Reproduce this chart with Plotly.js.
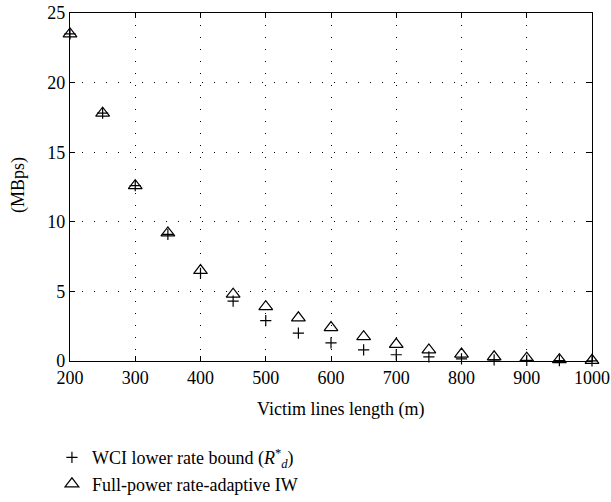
<!DOCTYPE html>
<html>
<head>
<meta charset="utf-8">
<script src="https://cdn.plot.ly/plotly-3.0.1.min.js"></script>
<style>html,body{margin:0;padding:0;background:#fff;}#chart{width:611px;height:502px;}</style>
</head>
<body>
<div id="chart"></div>
<script>
const lengths = [200, 250, 300, 350, 400, 450, 500, 550, 600, 650, 700, 750, 800, 850, 900, 950, 1000];
const wciLowerBound = [23.5, 17.8, 12.6, 9.1, 6.3, 4.3, 2.9, 2.0, 1.3, 0.8, 0.45, 0.3, 0.15, 0.08, 0.04, 0.02, 0.01];
const fullPowerIW = [23.5, 17.8, 12.6, 9.2, 6.5, 4.8, 3.9, 3.1, 2.4, 1.75, 1.2, 0.8, 0.5, 0.3, 0.2, 0.1, 0.05];
const xTicks = [200, 300, 400, 500, 600, 700, 800, 900, 1000];
const yTicks = [0, 5, 10, 15, 20, 25];
const xTitle = 'Victim lines length (m)';
const yTitle = '(MBps)';

const FONT = 'Liberation Serif, Times New Roman, serif';

const traces = [
  {
    x: lengths, y: wciLowerBound, type: 'scatter', mode: 'markers',
    name: 'WCI lower rate bound (<i>R</i><sup>*</sup><sub><i>d</i></sub>)',
    marker: {symbol: 'cross-thin-open', size: 8, color: '#000', line: {color: '#000', width: 1.2}},
    cliponaxis: false
  },
  {
    x: lengths, y: fullPowerIW, type: 'scatter', mode: 'markers',
    name: 'Full-power rate-adaptive IW',
    marker: {symbol: 'triangle-up-open', size: 12, color: '#000', line: {color: '#000', width: 1.2}},
    cliponaxis: false
  }
];

const axisCommon = {
  showline: true, linecolor: '#000', linewidth: 1.2, mirror: 'ticks',
  ticks: 'inside', ticklen: 5, tickcolor: '#000', tickwidth: 1,
  showgrid: true, gridcolor: '#000', gridwidth: 1, griddash: '1px,11px',
  zeroline: false, automargin: false,
  tickfont: {family: FONT, size: 18, color: '#000'}
};

const layout = {
  width: 611, height: 502,
  margin: {l: 70, r: 19, t: 13, b: 141, autoexpand: false},
  paper_bgcolor: '#fff', plot_bgcolor: '#fff',
  font: {family: FONT, color: '#000'},
  xaxis: Object.assign({}, axisCommon, {
    range: [200, 1000], tickvals: xTicks, ticktext: xTicks.map(String)
  }),
  yaxis: Object.assign({}, axisCommon, {
    range: [0, 25], tickvals: yTicks, ticktext: yTicks.map(String)
  }),
  annotations: [
    {text: xTitle, xref: 'paper', yref: 'paper', x: 0.518, y: -0.138, xanchor: 'center', yanchor: 'middle',
     showarrow: false, font: {family: FONT, size: 18, color: '#000'}},
    {text: yTitle, xref: 'paper', yref: 'paper', x: -0.1, y: 0.505, xanchor: 'center', yanchor: 'middle',
     textangle: -90, showarrow: false, font: {family: FONT, size: 18, color: '#000'}}
  ],
  showlegend: true,
  legend: {
    xref: 'container', yref: 'container', x: 0.085, y: 0.125, xanchor: 'left', yanchor: 'top',
    orientation: 'v', bgcolor: 'rgba(0,0,0,0)',
    font: {family: FONT, size: 18, color: '#000'},
    itemwidth: 30, tracegroupgap: 2
  }
};

Plotly.newPlot('chart', traces, layout, {displayModeBar: false, staticPlot: true});
</script>
</body>
</html>
